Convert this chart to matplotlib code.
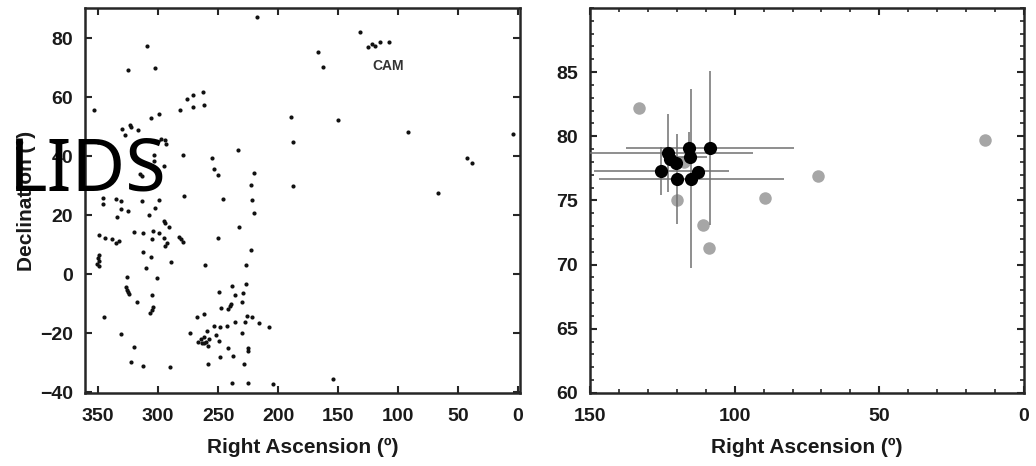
import matplotlib
matplotlib.use("Agg")
import matplotlib.pyplot as plt
from matplotlib.ticker import MultipleLocator

plt.rcParams['font.family'] = ['Liberation Sans', 'DejaVu Sans']

#=======================================================
# left panel: radiants of all showers (RA, Dec in degrees)
all_ra = [308.9, 325.3, 302.8, 262.8, 275.8, 270.6, 270.6, 261.7, 281.4, 353.1,
          298.9, 305.8, 330.0, 323.1, 322.5, 316.9, 327.5, 350.0, 297.5, 293.9,
          293.1, 303.6, 278.9, 233.6, 254.8, 253.3, 250.3, 303.3, 295.0, 314.8,
          313.6, 346.1, 335.0, 331.1, 313.1, 299.2, 278.6, 245.6, 217.3, 131.9,
          125.0, 121.9, 119.2, 115.0, 107.8, 166.9, 162.8, 189.2, 150.0, 187.3,
          220.3, 222.5, 187.3, 221.4, 3.9, 42.3, 38.0, 66.4, 91.4, 346.1,
          331.1, 325.0, 334.2, 302.8, 307.8, 294.8, 293.9, 290.6, 232.5, 249.8,
          349.2, 344.4, 338.6, 335.0, 332.8, 320.0, 312.8, 303.9, 299.2, 304.8,
          295.0, 292.8, 293.9, 282.3, 280.8, 279.4, 312.8, 349.4, 350.3, 348.9,
          350.6, 349.4, 306.1, 288.9, 310.0, 260.6, 325.8, 300.8, 326.4, 325.6,
          325.0, 324.2, 304.8, 317.8, 303.9, 305.3, 306.7, 345.0, 330.8, 319.8,
          322.8, 312.8, 289.8, 249.2, 238.3, 235.6, 247.5, 241.7, 240.3, 239.4,
          230.3, 267.5, 261.7, 253.6, 248.6, 242.5, 235.6, 273.3, 259.2, 261.9,
          264.2, 266.4, 263.6, 260.0, 257.5, 261.7, 258.1, 251.4, 249.4, 241.4,
          237.3, 248.3, 258.3, 238.6, 230.3, 228.6, 220.3, 222.5, 226.4, 226.4,
          229.4, 226.1, 221.9, 227.5, 216.1, 207.3, 225.3, 224.8, 225.3, 204.4,
          153.9]
all_dec = [77.4, 69.2, 69.9, 61.8, 59.3, 60.6, 56.8, 57.2, 55.7, 55.6,
           54.3, 52.8, 49.1, 50.6, 49.9, 48.7, 47.0, 44.7, 45.9, 45.3,
           44.2, 40.4, 40.4, 42.0, 39.2, 35.5, 33.5, 38.2, 36.8, 34.0,
           33.1, 25.8, 25.5, 24.8, 24.8, 25.2, 26.5, 25.5, 87.1, 81.9,
           76.9, 78.1, 77.4, 78.5, 78.6, 75.4, 70.3, 53.2, 52.3, 44.8,
           34.3, 30.3, 29.7, 25.0, 47.4, 39.3, 37.5, 27.4, 48.2, 23.6,
           21.9, 21.5, 19.2, 22.5, 19.9, 18.1, 17.4, 16.0, 15.9, 12.2,
           13.1, 12.2, 11.8, 10.7, 11.3, 14.2, 13.8, 14.6, 13.8, 11.8,
           12.3, 10.6, 9.4, 12.6, 11.8, 10.8, 7.6, 6.4, 5.3, 4.6,
           3.4, 2.8, 5.7, 4.1, 1.9, 3.2, -0.9, -1.3, -4.4, -5.4,
           -6.2, -6.8, -7.2, -9.6, -11.3, -12.2, -13.1, -14.6, -20.4, -24.8,
           -29.8, -31.0, -31.4, -6.0, -4.0, -7.2, -11.4, -11.8, -10.8, -10.2,
           -9.5, -14.7, -13.5, -17.5, -18.0, -17.5, -16.3, -19.9, -19.4, -21.3,
           -22.1, -22.9, -23.3, -22.9, -22.1, -23.5, -24.4, -20.7, -22.8, -25.2,
           -27.8, -28.1, -30.6, -36.8, -19.9, -30.6, 20.8, 8.0, 3.2, -3.5,
           -6.3, -14.1, -14.7, -16.4, -16.7, -17.9, -25.0, -26.1, -36.8, -37.2,
           -35.6]

# right panel: gray = single radiants, black = with uncertainties
gray_ra = [133.0, 120.1, 89.6, 71.3, 13.5, 111.1, 108.7, 117.5]
gray_dec = [82.2, 75.0, 75.2, 76.9, 79.7, 73.1, 71.3, 78.0]

black_ra = [125.4, 123.1, 122.5, 120.2, 119.8, 115.7, 115.6, 115.0, 112.8, 108.4]
black_dec = [77.3, 78.7, 78.2, 77.9, 76.7, 79.1, 78.4, 76.7, 77.2, 79.1]
black_ra_err = [23.3, 29.3, 0.0, 0.0, 0.0, 0.0, 6.0, 32.0, 0.0, 29.0]
black_dec_err = [1.9, 3.05, 0.0, 0.0, 3.5, 1.2, 0.0, 7.0, 0.0, 6.0]

#=======================================================
fig = plt.figure(figsize=(10.36, 4.66), dpi=100)
ax1 = fig.add_axes([0.0820, 0.1567, 0.4199, 0.8262])
ax2 = fig.add_axes([0.5695, 0.1567, 0.4189, 0.8262])

frame_c = '#262626'
label_font = dict(fontsize=15, fontweight='bold', color='#1a1a1a')

#----------------------------
ax1.scatter(all_ra, all_dec, s=9, c='#111111', linewidths=0, zorder=3)
ax1.text(108, 70.5, 'CAM', fontsize=10, fontweight='bold', color='#333333',
         ha='center', va='center')
ax1.set_xlim(361, -1.7)
ax1.set_ylim(-40.3, 90.2)
ax1.set_xticks([350, 300, 250, 200, 150, 100, 50, 0])
ax1.set_yticks([-40, -20, 0, 20, 40, 60, 80])
ax1.set_xlabel('Right Ascension (º)', labelpad=9, **label_font)
ax1.set_ylabel('Declination (º)', labelpad=3, **label_font)

#----------------------------
ax2.plot(gray_ra, gray_dec, 'o', ms=9, color='#a6a6a6', mec='none', zorder=2)
ax2.errorbar(black_ra, black_dec, xerr=black_ra_err, yerr=black_dec_err,
             fmt='none', ecolor='#707070', elinewidth=1.1, capsize=0, zorder=3)
ax2.plot(black_ra, black_dec, 'o', ms=9.5, color='#000000', mec='none', zorder=4)
ax2.set_xlim(150, 0)
ax2.set_ylim(60, 90)
ax2.set_xticks([150, 100, 50, 0])
ax2.set_yticks([60, 65, 70, 75, 80, 85])
ax2.xaxis.set_minor_locator(MultipleLocator(10))
ax2.yaxis.set_minor_locator(MultipleLocator(1))
ax2.set_xlabel('Right Ascension (º)', labelpad=9, **label_font)

#----------------------------
for ax in (ax1, ax2):
    for s in ax.spines.values():
        s.set_linewidth(1.8)
        s.set_color(frame_c)
    ax.tick_params(which='both', direction='in', top=True, right=True,
                   colors=frame_c, labelcolor='#1a1a1a')
    ax.tick_params(which='major', length=5, width=1.5, labelsize=14)
    ax.tick_params(which='minor', length=3, width=1.2)
    ax.tick_params(axis='x', pad=11)
    ax.tick_params(axis='y', pad=8.5)
    for lab in ax.get_xticklabels() + ax.get_yticklabels():
        lab.set_fontweight('bold')

#----------------------------
fig.text(0.009, 0.592, 'LIDS', fontsize=53, family=['Noto Sans', 'DejaVu Sans'],
         fontweight='light', color='black', ha='left', va='baseline', zorder=10)

fig.savefig('out.png', dpi=100)
